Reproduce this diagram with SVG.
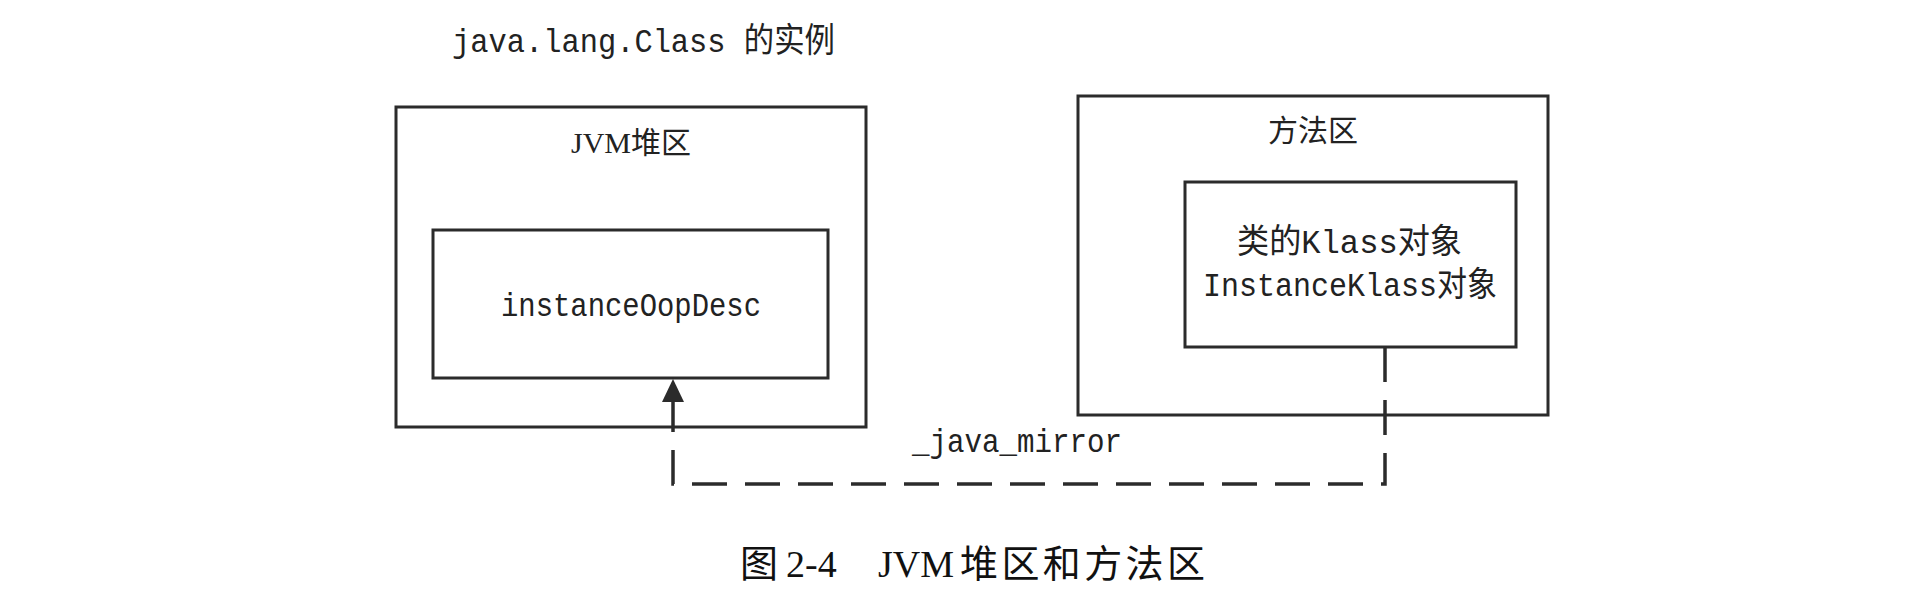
<svg xmlns="http://www.w3.org/2000/svg" width="1912" height="596" viewBox="0 0 1912 596">
<style>
.box{fill:none;stroke:#2b2b2b;stroke-width:3}
.mono{font-family:"Liberation Mono","Noto Sans CJK SC",monospace;font-size:34px;fill:#222}
.serif{font-family:"Liberation Serif","Noto Sans CJK SC",serif;font-size:30px;fill:#222}
.cjk{font-family:"Noto Sans CJK SC",sans-serif;font-size:30px;fill:#222}
.cap{font-family:"Liberation Serif","Noto Sans CJK SC",serif;font-size:38px;fill:#111}
.link{fill:none;stroke:#2b2b2b;stroke-width:3.5;stroke-dasharray:35 18}
</style>
<defs>
<marker id="arr" viewBox="0 0 23 22" refX="0" refY="11" markerWidth="23" markerHeight="22" markerUnits="userSpaceOnUse" orient="auto">
<path d="M0,0 L23,11 L0,22 z" fill="#2b2b2b"/>
</marker>
</defs>
<rect width="1912" height="596" fill="#fff"/>
<text class="mono" x="452" y="52" textLength="383" lengthAdjust="spacingAndGlyphs">java.lang.Class 的实例</text>
<g id="jvm-heap">
<rect class="box" x="396" y="107" width="470" height="320"/>
<text class="serif" x="631" y="153" text-anchor="middle">JVM堆区</text>
</g>
<g id="instanceOopDesc">
<rect class="box" x="433" y="230" width="395" height="148"/>
<text class="mono" x="501" y="316" textLength="260" lengthAdjust="spacingAndGlyphs">instanceOopDesc</text>
</g>
<g id="method-area">
<rect class="box" x="1078" y="96" width="470" height="319"/>
<text class="cjk" x="1313" y="141" text-anchor="middle">方法区</text>
</g>
<g id="klass">
<rect class="box" x="1185" y="182" width="331" height="165"/>
<text class="mono" x="1237" y="253" textLength="225" lengthAdjust="spacingAndGlyphs">类的Klass对象</text>
<text class="mono" x="1203" y="296" textLength="294" lengthAdjust="spacingAndGlyphs">InstanceKlass对象</text>
</g>
<g id="connectors">
<path class="link" d="M1385,347 L1385,484 L673,484 L673,402" marker-end="url(#arr)"/>
<text class="mono" x="912" y="452" textLength="210" lengthAdjust="spacingAndGlyphs">_java_mirror</text>
</g>
<text class="cap" y="577"><tspan x="740">图</tspan><tspan x="786">2-4</tspan><tspan x="878">JVM</tspan><tspan x="960" textLength="245" lengthAdjust="spacing">堆区和方法区</tspan></text>
</svg>
